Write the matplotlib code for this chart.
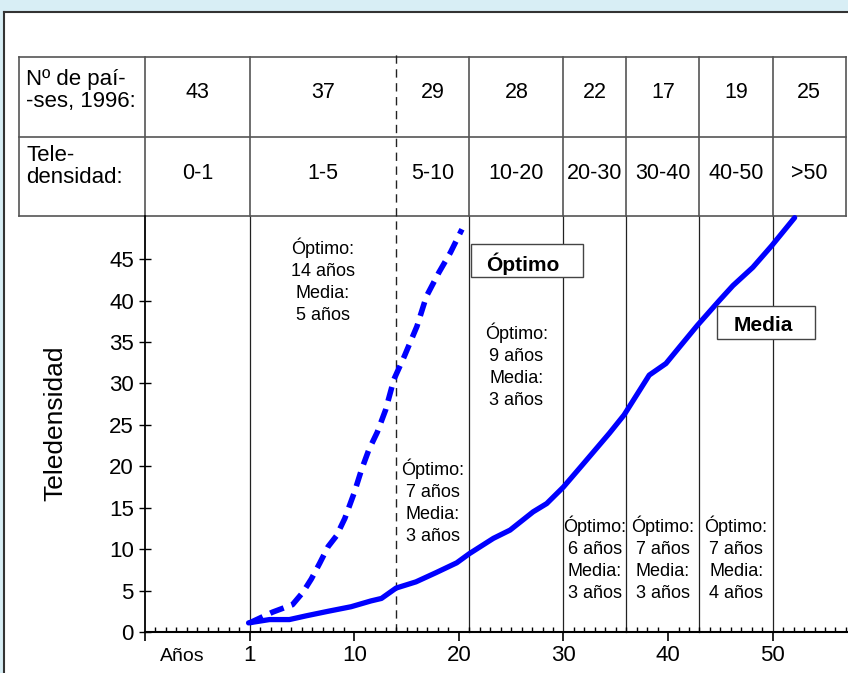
import matplotlib
matplotlib.use('Agg')
import matplotlib.pyplot as plt
import matplotlib.transforms as mtransforms
from matplotlib.patches import Rectangle
from matplotlib.lines import Line2D
from matplotlib.ticker import MultipleLocator
import numpy as np

plt.rcParams['font.family'] = ['Liberation Sans', 'DejaVu Sans']

# ---------------- data ----------------
paises_1996 = [43, 37, 29, 28, 22, 17, 19, 25]
teledensidad_rangos = ['0-1', '1-5', '5-10', '10-20', '20-30', '30-40', '40-50', '>50']
anos_optimo = [14, 7, 9, 6, 7, 7]
anos_media = [5, 3, 3, 3, 3, 4]

optimo_x = [0.0, 2.2, 4.1, 5.1, 5.9, 6.7, 7.5, 8.3, 9.1, 10.0, 10.7, 11.4, 12.2,
            13.0, 13.8, 14.8, 16.0, 16.9, 18.1, 19.2, 20.3]
optimo_y = [1.1, 2.4, 3.3, 4.8, 6.4, 8.3, 10.3, 11.6, 13.7, 16.8, 19.6, 22.0,
            24.1, 26.8, 30.5, 33.3, 36.9, 40.5, 43.4, 45.8, 48.6]

media_x = [-0.1, 1.9, 3.8, 5.4, 7.5, 9.7, 11.6, 12.6, 14.0, 15.9, 17.8, 19.8,
           21.0, 23.3, 24.9, 27.1, 28.4, 30.0, 31.7, 34.4, 35.8, 37.3, 38.2,
           39.8, 41.1, 42.8, 44.9, 46.2, 48.1, 49.9, 52.1]
media_y = [1.1, 1.5, 1.5, 1.95, 2.5, 3.05, 3.75, 4.05, 5.3, 6.05, 7.15, 8.35,
           9.45, 11.3, 12.3, 14.5, 15.5, 17.5, 20.0, 24.0, 26.2, 29.2, 31.0,
           32.4, 34.4, 37.0, 40.0, 41.8, 44.0, 46.6, 50.0]

x_ticks = [-10, 0, 10, 20, 30, 40, 50]
x_ticklabels = ['', '1', '10', '20', '30', '40', '50']
y_ticks = [0, 5, 10, 15, 20, 25, 30, 35, 40, 45]

annot_y = [42.4, 15.7, 32.1, 8.8, 8.8, 8.8]

# ---------------- figure ----------------
W, H = 848, 673
fig = plt.figure(figsize=(W / 100, H / 100), dpi=100)
fig.patch.set_facecolor('#d8eef5')

# white panel with dark border (left & top)
panel = Rectangle((4 / W, 0), 1.0, (H - 12) / H, transform=fig.transFigure,
                  facecolor='white', edgecolor='none', zorder=-10)
fig.add_artist(panel)
fig.add_artist(Line2D([4 / W, 4 / W], [0, (H - 12) / H], transform=fig.transFigure,
                      color='#333333', lw=1.5, zorder=-9))
fig.add_artist(Line2D([4 / W, 1.0], [(H - 12) / H, (H - 12) / H], transform=fig.transFigure,
                      color='#333333', lw=1.5, zorder=-9))

ax_left, ax_right = 145 / W, 848 / W
ax_bottom, ax_top = (H - 632) / H, (H - 216) / H
ax = fig.add_axes([ax_left, ax_bottom, ax_right - ax_left, ax_top - ax_bottom])
ax.set_zorder(1)
ax.set_facecolor('none')
ax.set_xlim(-10, 57.2)
ax.set_ylim(0, 50.2)

for s in ['top', 'right']:
    ax.spines[s].set_visible(False)
ax.spines['left'].set_linewidth(1.3)
ax.spines['bottom'].set_linewidth(1.5)

ax.set_xticks(x_ticks)
ax.set_xticklabels(x_ticklabels, fontsize=16)
ax.xaxis.set_minor_locator(MultipleLocator(1))
ax.tick_params(axis='x', which='major', direction='out', length=6.5, width=1.2, pad=3)
ax.tick_params(axis='x', which='minor', direction='in', length=3.8, width=1.0)
ax.set_yticks(y_ticks)
ax.set_yticklabels([str(v) for v in y_ticks], fontsize=16)
ax.tick_params(axis='y', which='major', direction='inout', length=8, width=1.0, pad=4)

trans = mtransforms.blended_transform_factory(ax.transData, ax.transAxes)

# column boundaries derived from cumulative optimal years
bounds = [-10, 0] + list(np.cumsum(anos_optimo)) + [57.0]

# vertical lines through plot
for b in bounds[1:-1]:
    if b == 14:
        ax.plot([b, b], [0, 1.0], transform=trans, color='#222222', lw=1.0,
                dashes=(6, 4), clip_on=False, zorder=1)
    else:
        ax.plot([b, b], [0, 1.0], transform=trans, color='#222222', lw=0.9,
                clip_on=False, zorder=1)

# ---------------- table ----------------
tab_left = -22.0
tab_right = 57.0
y_top, y_mid, y_bot = (632 - 57) / 416, (632 - 137) / 416, 1.0
tcol = '#555555'
for yy in (y_top, y_mid, y_bot):
    ax.plot([tab_left, tab_right], [yy, yy], transform=trans, color=tcol,
            lw=1.2, clip_on=False)
for b in [tab_left] + bounds:
    if b == 14:
        ax.plot([b, b], [y_bot, y_top + 0.012], transform=trans, color='#222222',
                lw=1.0, dashes=(6, 4), clip_on=False)
    else:
        ax.plot([b, b], [y_bot, y_top], transform=trans, color=tcol, lw=1.2,
                clip_on=False)

row1_y = (632 - 92) / 416
row2_y = (632 - 174) / 416
for i in range(len(paises_1996)):
    cx = (bounds[i] + bounds[i + 1]) / 2
    ax.text(cx, row1_y, str(paises_1996[i]), transform=trans, ha='center',
            va='center', fontsize=15.5)
    ax.text(cx, row2_y, teledensidad_rangos[i], transform=trans, ha='center',
            va='center', fontsize=15.5)

ax.text(tab_left + 0.65, (632 - 90.5) / 416, 'Nº de paí-\n-ses, 1996:', transform=trans,
        ha='left', va='center', fontsize=16, linespacing=1.05)
ax.text(tab_left + 0.65, (632 - 166.5) / 416, 'Tele-\ndensidad:', transform=trans,
        ha='left', va='center', fontsize=16, linespacing=1.05)

# ---------------- curves ----------------
ax.plot(optimo_x, optimo_y, color='#0000ff', lw=4.0, dashes=(2.6, 1.5),
        dash_capstyle='butt', dash_joinstyle='round', zorder=4, clip_on=False)
ax.plot(media_x, media_y, color='#0000ff', lw=3.8, solid_capstyle='round',
        solid_joinstyle='round', zorder=4, clip_on=False)

# ---------------- annotations ----------------
for i, (o, m) in enumerate(zip(anos_optimo, anos_media)):
    cx = (bounds[i + 1] + bounds[i + 2]) / 2
    ax.text(cx, annot_y[i], 'Óptimo:\n%d años\nMedia:\n%d años' % (o, m),
            ha='center', va='center', fontsize=13, linespacing=1.38, zorder=3)

# legend boxes
ax.add_patch(Rectangle((21.2, 42.8), 10.7, 4.0, facecolor='white',
                       edgecolor='#444444', lw=1.0, zorder=5))
ax.text(26.1, 44.4, 'Óptimo', ha='center', va='center', fontsize=15,
        fontweight='bold', zorder=6)
ax.add_patch(Rectangle((44.7, 35.3), 9.3, 4.0, facecolor='white',
                       edgecolor='#444444', lw=1.0, zorder=5))
ax.text(49.1, 37.0, 'Media', ha='center', va='center', fontsize=15,
        fontweight='bold', zorder=6)

# axis label texts
ax.text(-6.4, -0.06, 'Años', transform=trans, ha='center', va='center', fontsize=14)
fig.text(55 / W, (H - 423) / H, 'Teledensidad', rotation=90, ha='center',
         va='center', fontsize=19)

fig.savefig('out.png', dpi=100, facecolor=fig.get_facecolor())
